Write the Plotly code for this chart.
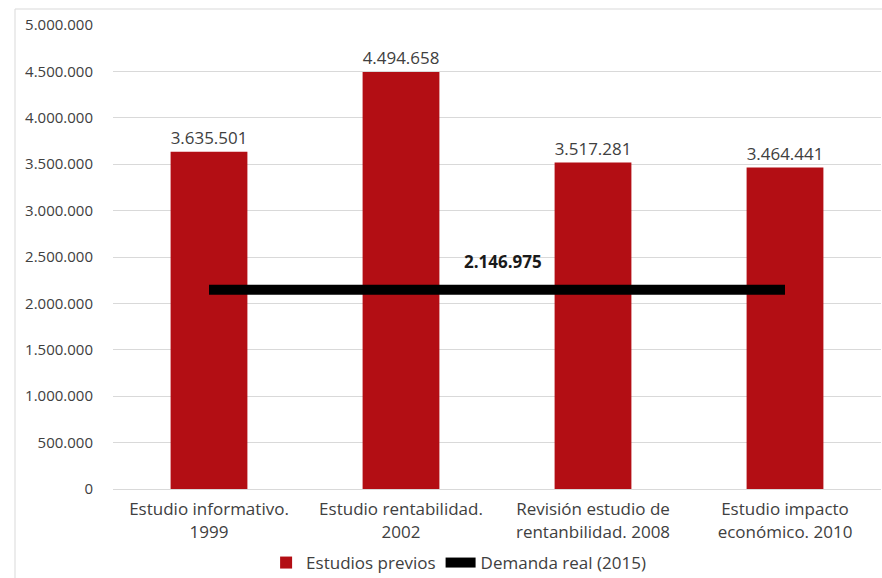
import plotly.graph_objects as go

categories = ["Estudio informativo.<br>1999", "Estudio rentabilidad.<br>2002",
              "Revisión estudio de<br>rentanbilidad. 2008", "Estudio impacto<br>económico. 2010"]
estudios_previos = [3635501, 4494658, 3517281, 3464441]
demanda_real = [2146975, 2146975, 2146975, 2146975]
demanda_label = "2.146.975"

font_family = "'Open Sans', Lato, sans-serif"
text_color = "#404040"

fig = go.Figure()
fig.add_trace(go.Bar(
    x=categories, y=estudios_previos, name="Estudios previos",
    marker=dict(color="#B30E14", line=dict(width=0)),
    width=0.4,
    texttemplate="%{y:,d}", textposition="outside",
    textfont=dict(size=18, color=text_color, family=font_family),
    cliponaxis=False,
))
fig.add_trace(go.Scatter(
    x=categories, y=demanda_real, name="Demanda real (2015)",
    mode="lines", line=dict(color="black", width=10),
))
fig.add_annotation(x=1.53, y=demanda_real[0], xref="x", yref="y",
                   text="<b>" + demanda_label + "</b>", showarrow=False,
                   yshift=28, font=dict(size=17, color="#1a1a1a", family=font_family))

# frame (left and top edges)
fig.add_shape(type="line", xref="paper", yref="paper",
              x0=(15 - 113) / 768, x1=1.01, y0=(489 - 9) / 464, y1=(489 - 9) / 464,
              line=dict(color="#d9d9d9", width=1))
fig.add_shape(type="line", xref="paper", yref="paper",
              x0=(15 - 113) / 768, x1=(15 - 113) / 768, y0=(489 - 9) / 464, y1=(489 - 580) / 464,
              line=dict(color="#d9d9d9", width=1))

fig.update_layout(
    width=882, height=578,
    margin=dict(l=113, r=1, t=25, b=89, autoexpand=False),
    paper_bgcolor="white", plot_bgcolor="white",
    separators=",.",
    bargap=0.6,
    font=dict(family=font_family, color=text_color, size=15),
    showlegend=True,
    legend=dict(orientation="h", x=0.45, xanchor="center", y=(489 - 563) / 464, yanchor="middle",
                font=dict(size=17, color=text_color), itemwidth=30, tracegroupgap=0),
)
fig.update_yaxes(range=[0, 5000000], dtick=500000, tickformat=",d",
                 showgrid=True, gridcolor="#d9d9d9", gridwidth=1,
                 zeroline=False, showline=False, automargin=False,
                 ticks="outside", ticklen=16, tickcolor="rgba(0,0,0,0)",
                 tickfont=dict(size=15, color=text_color))
fig.update_xaxes(showline=True, linecolor="#d9d9d9", linewidth=1, automargin=False,
                 showgrid=False, tickfont=dict(size=17, color=text_color),
                 ticks="outside", ticklen=5, tickcolor="rgba(0,0,0,0)")

fig.write_html("out.html")
